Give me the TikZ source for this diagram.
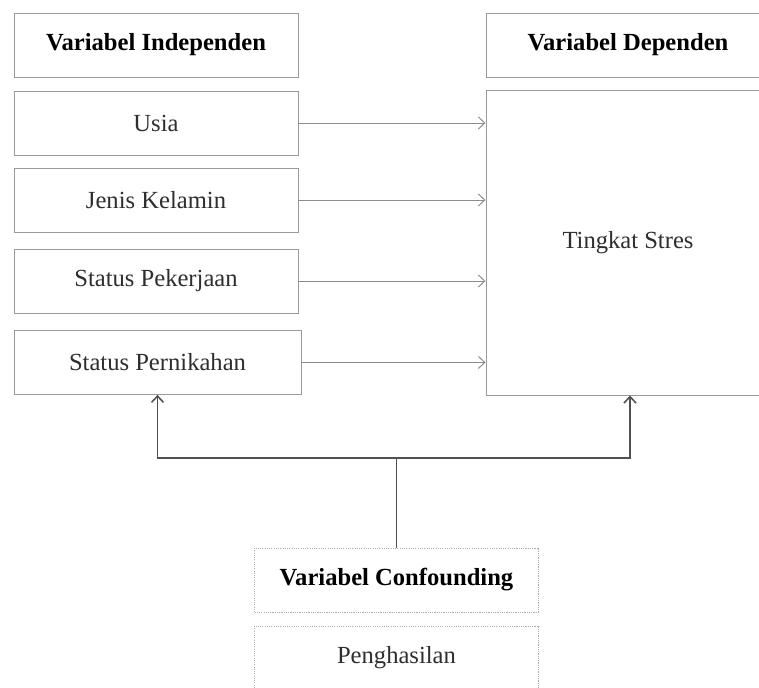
\documentclass[tikz,border=0pt]{standalone}
\usepackage{fontspec}
\setmainfont{Liberation Serif}
\usepackage{xcolor}
\usetikzlibrary{arrows.meta}
\definecolor{box-gray}{HTML}{9A9A9A}
\definecolor{link-gray}{HTML}{8C8C8C}
\definecolor{trunk}{HTML}{505050}
\definecolor{ink}{HTML}{2E2E2E}

\begin{document}
\begin{tikzpicture}[every node/.style={font=\fontsize{17.5}{21}\selectfont},
    >={Straight Barb[length=1.6mm, width=3mm]},
    varbox/.style={draw=box-gray, line width=0.7pt, fill=white, text=ink,
      minimum width=7.1cm, minimum height=1.6cm, align=center},
    headbox/.style={varbox, text=black, font=\fontsize{17.5}{21}\selectfont\bfseries},
    confbox/.style={varbox, draw=box-gray!80, dash pattern=on 0.8pt off 0.8pt},
    link/.style={->, draw=link-gray, line width=0.7pt},
    upline/.style={draw=trunk, line width=1.1pt}]
    \clip (0, 0) rectangle (18.975, -17.175);
    % independent side
    \node[headbox] (indep) at (3.9, -1.125) {Variabel Independen};
    \node[varbox] (usia) at (3.9, -3.075) {Usia};
    \node[varbox] (jenis) at (3.9, -5.0) {Jenis Kelamin};
    \node[varbox] (kerja) at (3.9, -7.025) {Status Pekerjaan};
    \node[varbox, minimum width=7.175cm] (nikah) at (3.9375, -9.06)
      {Status Pernikahan};
    % dependent side
    \node[headbox] (dep) at (15.7, -1.125) {Variabel Dependen};
    \node[varbox, minimum height=7.625cm] (stres) at (15.7, -6.0625)
      {Tingkat Stres};
    % confounding
    \node[headbox, dash pattern=on 0.8pt off 0.8pt, draw=box-gray!80]
      (conf) at (9.9125, -14.5) {Variabel Confounding};
    \node[confbox] (hasil) at (9.9125, -16.45) {Penghasilan};
    \draw[link] (usia.east) -- (usia.east -| stres.west);
    \draw[link] (jenis.east) -- (jenis.east -| stres.west);
    \draw[link] (kerja.east) -- (kerja.east -| stres.west);
    \draw[link] (nikah.east) -- (nikah.east -| stres.west);
    \coordinate (split) at (9.9125, -11.45);
    \coordinate (rightfoot) at (15.75, -11.45);
    \draw[upline] (conf.north) -- (split);
    \draw[upline, ->] (split) -| (nikah.south);
    \draw[upline, ->] (split) -- (rightfoot) -- (rightfoot |- stres.south);
\end{tikzpicture}
\end{document}
